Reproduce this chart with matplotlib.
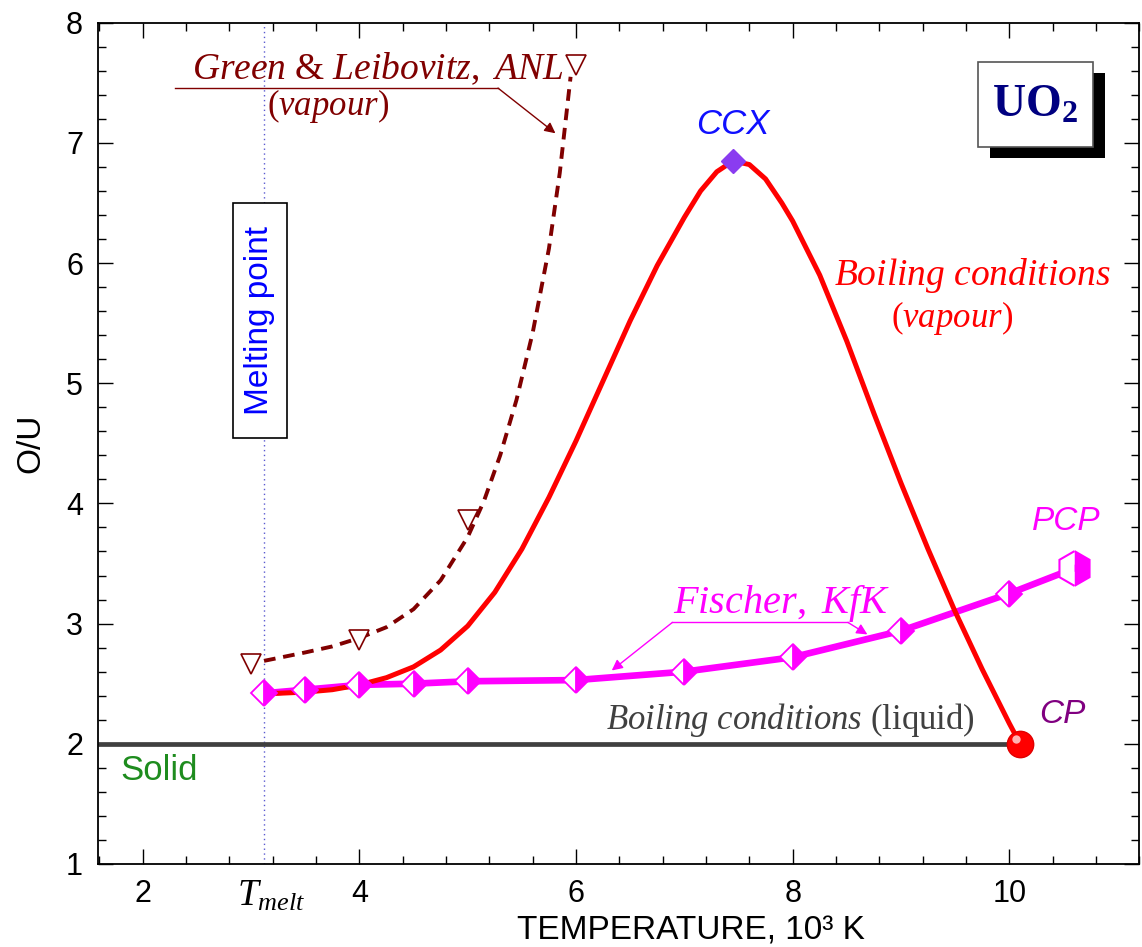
import matplotlib
matplotlib.use('Agg')
import matplotlib.pyplot as plt
from matplotlib.patches import Rectangle
from matplotlib import transforms
from matplotlib.ticker import MultipleLocator

plt.rcParams['mathtext.fontset'] = 'custom'
plt.rcParams['mathtext.rm'] = 'Liberation Serif'
plt.rcParams['mathtext.it'] = 'Liberation Serif:italic'
plt.rcParams['mathtext.bf'] = 'Liberation Serif:bold'
plt.rcParams['font.family'] = ['Liberation Sans', 'DejaVu Sans']

# ---------------- data ----------------
t_melt = 3.12
solid_ou = 2.0

fischer_T = [3.12, 3.5, 4.0, 4.5, 5.0, 6.0, 7.0, 8.0, 9.0, 10.0]
fischer_OU = [2.42, 2.45, 2.49, 2.50, 2.52, 2.53, 2.60, 2.72, 2.94, 3.25]
pcp_T, pcp_OU = 10.6, 3.46

boil_T = [3.12, 3.25, 3.5, 3.75, 4.0, 4.25, 4.5, 4.75, 5.0, 5.25, 5.5, 5.75, 6.0,
          6.25, 6.5, 6.75, 7.0, 7.15, 7.3, 7.45, 7.6, 7.75, 7.9, 8.0, 8.25, 8.5,
          8.75, 9.0, 9.25, 9.5, 9.75, 10.0, 10.1]
boil_OU = [2.42, 2.42, 2.43, 2.45, 2.49, 2.55, 2.64, 2.78, 2.98, 3.26, 3.62, 4.05, 4.52,
           5.02, 5.52, 5.98, 6.38, 6.60, 6.76, 6.85, 6.82, 6.70, 6.50, 6.35, 5.90, 5.35,
           4.75, 4.17, 3.62, 3.10, 2.62, 2.17, 2.0]
ccx_T, ccx_OU = 7.45, 6.85
cp_T, cp_OU = 10.1, 2.0

gl_T = [3.0, 4.0, 5.0, 6.0]
gl_OU = [2.66, 2.86, 3.86, 7.65]
gl_fit_T = [3.12, 3.5, 3.75, 4.0, 4.25, 4.5, 4.75, 5.0, 5.15, 5.3, 5.45, 5.6, 5.75, 5.85, 5.95]
gl_fit_OU = [2.69, 2.76, 2.81, 2.88, 2.97, 3.12, 3.36, 3.72, 4.02, 4.40, 4.86, 5.42, 6.12, 6.75, 7.55]

x_ticks = [2, 4, 6, 8, 10]
y_ticks = [1, 2, 3, 4, 5, 6, 7, 8]

# ---------------- figure ----------------
fig = plt.figure(figsize=(11.42, 9.47), dpi=100)
ax = fig.add_axes([0.0861, 0.0877, 0.9115, 0.8883])
ax.set_xlim(1.59, 11.2)
ax.set_ylim(1, 8)

MAG = '#ff00ff'
RED = '#ff0000'
DRED = '#800000'

# melting point line
ax.axvline(t_melt, color='#5a5ad0', lw=1.0, ls=(0, (1, 2.5)), zorder=1)

# solid / liquid boiling line
ax.plot([ax.get_xlim()[0], cp_T], [solid_ou, solid_ou], color='#404040', lw=3.4,
        solid_capstyle='butt', zorder=2)

# Fischer line
ax.plot(fischer_T + [pcp_T], fischer_OU + [pcp_OU], color=MAG, lw=4.8, zorder=3)

# boiling vapour curve
ax.plot(boil_T, boil_OU, color=RED, lw=3.6, zorder=4, solid_capstyle='butt')

# Green & Leibovitz
ax.plot(gl_fit_T, gl_fit_OU, color=DRED, lw=2.8, ls=(0, (3, 2)), zorder=4)
ax.plot(gl_T, gl_OU, ls='none', marker='v', ms=14, mfc='white', mec=DRED, mew=1.2, zorder=5)

# Fischer markers
ax.plot(fischer_T, fischer_OU, ls='none', marker='D', ms=13, fillstyle='right',
        mfc=MAG, mfcalt='white', mec=MAG, mew=1.3, zorder=6)
ax.plot([pcp_T], [pcp_OU], ls='none', marker='h', ms=25, fillstyle='right',
        mfc=MAG, mfcalt='white', mec=MAG, mew=1.5, zorder=6)

# CCX
ax.plot([ccx_T], [ccx_OU], ls='none', marker='D', ms=12, mfc='#8a3cf0', mec='#8a3cf0', zorder=7)

# CP
ax.plot([cp_T], [cp_OU], ls='none', marker='o', ms=19, mfc=RED, mec='#e00000', zorder=7)
hl = transforms.offset_copy(ax.transData, fig=fig, x=-3, y=3.5, units='points')
ax.plot([cp_T], [cp_OU], ls='none', marker='o', ms=6, mfc='#ffc8c8', mec='none',
        alpha=0.9, transform=hl, zorder=8)

# ---------------- axes styling ----------------
for s in ax.spines.values():
    s.set_linewidth(1.3)
ax.xaxis.set_major_locator(MultipleLocator(2))
ax.xaxis.set_minor_locator(MultipleLocator(0.4))
ax.yaxis.set_major_locator(MultipleLocator(1))
ax.yaxis.set_minor_locator(MultipleLocator(0.2))
ax.set_xticks(x_ticks)
ax.set_yticks(y_ticks)
ax.tick_params(which='both', direction='in', top=True, right=True, width=1.0)
ax.tick_params(which='major', length=10.5, labelsize=22)
ax.tick_params(which='minor', length=5.8)
ax.tick_params(axis='x', which='major', pad=11)
ax.tick_params(axis='y', which='major', pad=11)

ax.set_ylabel('O/U', fontsize=24, labelpad=14)
fig.text(691 / 1142, 1 - 931 / 947, 'TEMPERATURE, 10³ K', fontsize=24,
         ha='center', va='center')

# T_melt label under axis
tr = transforms.blended_transform_factory(ax.transData, ax.transAxes)
ax.text(t_melt + 0.07, -0.038, r'$T_{melt}$', transform=tr, fontsize=27,
        ha='center', va='center')

# ---------------- annotations ----------------
ax.text(4.17, 7.62, r'$\mathit{Green\ &\ Leibovitz,\ ANL}$', color=DRED, fontsize=27,
        ha='center', va='center')
ax.text(3.71, 7.31, r'($\mathit{vapour}$)', color=DRED, fontsize=25,
        family='Liberation Serif', ha='center', va='center')
ax.plot([2.30, 5.28], [7.456, 7.456], color=DRED, lw=1.0)
ax.annotate('', xy=(5.81, 7.08), xytext=(5.28, 7.456),
            arrowprops=dict(arrowstyle='-|>', color=DRED, lw=1.0, mutation_scale=16,
                            shrinkA=0, shrinkB=0))

ax.text(ccx_T, 7.15, 'CCX', color='#1010ff', fontsize=25, style='italic',
        ha='center', va='center')
ax.text(9.66, 5.90, r'$\mathit{Boiling\ conditions}$', color=RED, fontsize=27,
        ha='center', va='center')
ax.text(9.47, 5.54, r'($\mathit{vapour}$)', color=RED, fontsize=25,
        family='Liberation Serif', ha='center', va='center')
ax.text(10.53, 3.85, 'PCP', color=MAG, fontsize=24, style='italic',
        ha='center', va='center')
ax.text(10.49, 2.24, 'CP', color='#800080', fontsize=24, style='italic',
        ha='center', va='center')

ax.text(7.90, 3.17, r'$\mathit{Fischer,\ KfK}$', color=MAG, fontsize=29,
        ha='center', va='center')
ax.plot([6.89, 8.51], [3.01, 3.01], color=MAG, lw=1.0)
ax.annotate('', xy=(6.33, 2.61), xytext=(6.89, 3.01),
            arrowprops=dict(arrowstyle='-|>', color=MAG, lw=1.0, mutation_scale=16,
                            shrinkA=0, shrinkB=0))
ax.annotate('', xy=(8.69, 2.91), xytext=(8.51, 3.01),
            arrowprops=dict(arrowstyle='-|>', color=MAG, lw=1.0, mutation_scale=16,
                            shrinkA=0, shrinkB=0))

ax.text(7.98, 2.20, r'$\mathit{Boiling\ conditions}$ (liquid)', color='#404040',
        fontsize=25, family='Liberation Serif', ha='center', va='center')
ax.text(1.79, 1.78, 'Solid', color='#1e8c1e', fontsize=25, ha='left', va='center')

# Melting point box
ax.add_patch(Rectangle((0.1294, 0.5064), 0.0519, 0.2793, transform=ax.transAxes,
                       facecolor='white', edgecolor='black', lw=1.2, zorder=9))
ax.text(0.1553, 0.646, 'Melting point', transform=ax.transAxes, rotation=90,
        color='#0000ff', fontsize=24, ha='center', va='center', zorder=10)

# UO2 box
ax.add_patch(Rectangle((0.8566, 0.8395), 0.1104, 0.101, transform=ax.transAxes,
                       facecolor='black', edgecolor='black', lw=0, zorder=9))
ax.add_patch(Rectangle((0.845, 0.852), 0.1104, 0.101, transform=ax.transAxes,
                       facecolor='white', edgecolor='#555555', lw=1.2, zorder=10))
ax.text(0.8997, 0.902, r'$\mathbf{UO_2}$', transform=ax.transAxes, color='#000080',
        fontsize=33, ha='center', va='center', zorder=11)

fig.savefig('out.png', dpi=100)
